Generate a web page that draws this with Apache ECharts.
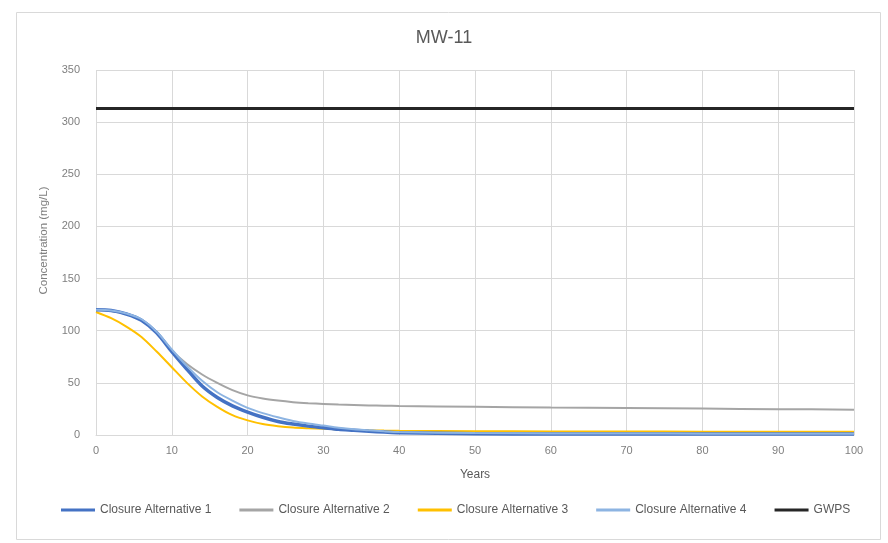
<!DOCTYPE html>
<html><head><meta charset="utf-8">
<script src="https://cdn.jsdelivr.net/npm/echarts@6/dist/echarts.min.js"></script>
<style>html,body{margin:0;padding:0;background:#fff}#c{width:888px;height:543px}</style>
</head><body><div id="c"></div>
<script>
const years = [0,2,4,6,8,10,12,14,16,18,20,22,24,26,28,30,32,34,36,38,40,50,60,70,80,90,100];
const alt1 = [120,119.3,116,110,98,80,63,47,36,28,22,17,13,10.5,8.5,7,5.5,4.5,3.5,2.8,2.2,1.2,1,1,1,1,1];
const alt2 = [120,119,116,110,98,81,68,58,50,43,38,35,33,31.5,30.5,29.8,29.2,28.8,28.4,28.1,27.8,27,26.3,25.8,25.3,24.8,24.3];
const alt3 = [118,112,104,94,80,65,50,37,27,19,14,10.5,8.5,7.2,6.5,6,5.3,4.9,4.5,4.2,4,3.6,3.4,3.3,3.2,3.1,3];
const alt4 = [120,119.3,116.5,111,99,82,66,52,41,33,26,21,17,13.5,11,9,7,5.5,4.5,3.5,2.8,1.8,1.5,1.4,1.3,1.2,1.2];
const gwpsYears = [0,100];
const gwps = [313,313];
const seriesNames = ['Closure Alternative 1','Closure Alternative 2','Closure Alternative 3','Closure Alternative 4','GWPS'];
const title = 'MW-11';
const xName = 'Years';
const yName = 'Concentration (mg/L)';

const pairs = (xs, ys) => xs.map((x,i)=>[x, ys[i]]);
const chart = echarts.init(document.getElementById('c'));
const mk = (name, xs, ys, color, width, z) => ({
  name, type:'line', data: pairs(xs, ys), smooth: 0.3, showSymbol:false, symbol:'none',
  lineStyle:{color, width}, itemStyle:{color}, z
});
chart.setOption({
  animation:false,
  title:{text:title, left:'center', top:24, textStyle:{fontFamily:'Liberation Sans', fontSize:18, fontWeight:'normal', color:'#595959'}},
  graphic:[{type:'rect', shape:{x:16.5,y:12.5,width:864,height:527}, style:{fill:'none', stroke:'#d9d9d9', lineWidth:1}, z:-1}],
  grid:{left:96, right:34, top:70, bottom:108},
  legend:{bottom:22, left:56, itemWidth:34, itemHeight:3, itemGap:28,
    icon:'rect',
    textStyle:{fontFamily:'Liberation Sans', fontSize:12, color:'#595959'},
    data: seriesNames},
  xAxis:{type:'value', min:0, max:100, interval:10, name:xName, nameLocation:'middle', nameGap:34,
    nameTextStyle:{fontFamily:'Liberation Sans', fontSize:12, color:'#595959'},
    axisLine:{show:true, lineStyle:{color:'#d9d9d9'}}, axisTick:{show:false},
    axisLabel:{fontFamily:'Liberation Sans', fontSize:11, color:'#7f7f7f', margin:10},
    splitLine:{show:true, lineStyle:{color:'#d9d9d9'}}},
  yAxis:{type:'value', min:0, max:350, interval:50, name:yName, nameLocation:'middle', nameGap:46,
    nameTextStyle:{fontFamily:'Liberation Sans', fontSize:11.5, color:'#7f7f7f', padding:[0,0,0,24]},
    axisLine:{show:false}, axisTick:{show:false},
    axisLabel:{fontFamily:'Liberation Sans', fontSize:11, color:'#7f7f7f', margin:16},
    splitLine:{show:true, lineStyle:{color:'#d9d9d9'}}},
  series:[
    mk(seriesNames[1], years, alt2, '#A5A5A5', 2, 2),
    mk(seriesNames[2], years, alt3, '#FFC000', 2, 3),
    mk(seriesNames[0], years, alt1, '#4472C4', 3.5, 4),
    mk(seriesNames[3], years, alt4, '#8DB4E2', 2, 5),
    mk(seriesNames[4], gwpsYears, gwps, '#262626', 3, 6)
  ]
});
</script></body></html>
